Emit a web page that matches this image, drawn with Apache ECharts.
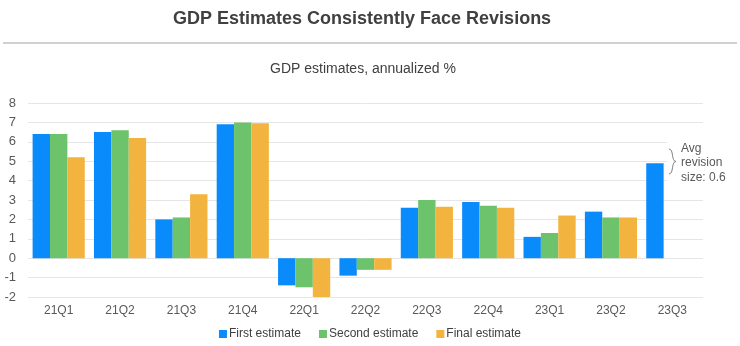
<!DOCTYPE html>
<html>
<head>
<meta charset="utf-8">
<script src="https://cdn.jsdelivr.net/npm/echarts@6/dist/echarts.min.js"></script>
<style>html,body{margin:0;padding:0;background:#fff}#c{width:740px;height:346px}</style>
</head>
<body>
<div id="c"></div>
<script>
const categories = ['21Q1','21Q2','21Q3','21Q4','22Q1','22Q2','22Q3','22Q4','23Q1','23Q2','23Q3'];
const firstEstimate  = [6.4, 6.5, 2.0, 6.9, -1.4, -0.9, 2.6, 2.9, 1.1, 2.4, 4.9];
const secondEstimate = [6.4, 6.6, 2.1, 7.0, -1.5, -0.6, 3.0, 2.7, 1.3, 2.1, null];
const finalEstimate  = [5.2, 6.2, 3.3, 6.95, -2.0, -0.6, 2.65, 2.6, 2.2, 2.1, null];
const yTicks = { min: -2, max: 8, interval: 1 };
const seriesNames = ['First estimate', 'Second estimate', 'Final estimate'];
const colors = ['#0A8BFC', '#6CC36B', '#F3B33F'];

const chart = echarts.init(document.getElementById('c'), null, { renderer: 'canvas' });
const font = 'Liberation Sans, Arial, sans-serif';
chart.setOption({
  animation: false,
  color: colors,
  textStyle: { fontFamily: font },
  title: [
    { text: 'GDP Estimates Consistently Face Revisions', left: 168, top: 5,
      textStyle: { fontSize: 18, fontWeight: 'bold', color: '#404040', fontFamily: font } },
    { text: 'GDP estimates, annualized %', left: 265, top: 57,
      textStyle: { fontSize: 14, fontWeight: 'normal', color: '#404040', fontFamily: font } }
  ],
  graphic: [
    { type: 'line', shape: { x1: 3, y1: 43, x2: 737, y2: 43 }, style: { stroke: '#d0d0d0', lineWidth: 2 } },
    { type: 'rect', shape: { x: 667, y: 140, width: 73, height: 46 }, style: { fill: '#ffffff' }, z: 10 },
    { type: 'bezierCurve', shape: { x1: 669, y1: 149, cpx1: 674, cpy1: 149, cpx2: 671, cpy2: 161.5, x2: 676, y2: 161.5 },
      style: { stroke: '#7f7f7f', lineWidth: 1, fill: null }, z: 11 },
    { type: 'bezierCurve', shape: { x1: 676, y1: 161.5, cpx1: 671, cpy1: 161.5, cpx2: 674, cpy2: 174, x2: 669, y2: 174 },
      style: { stroke: '#7f7f7f', lineWidth: 1, fill: null }, z: 11 },
    { type: 'text', left: 681, top: 141, z: 11, style: { text: 'Avg\nrevision\nsize: 0.6', fontSize: 12, lineHeight: 14.5, fill: '#595959', fontFamily: font } }
  ],
  legend: {
    data: seriesNames, bottom: 1, left: 'center', itemWidth: 8, itemHeight: 8, itemGap: 18,
    icon: 'rect',
    textStyle: { fontSize: 12, color: '#404040', fontFamily: font, padding: [0, 0, 0, -3] }
  },
  grid: { left: 28, right: 37, top: 103, bottom: 49, containLabel: false },
  xAxis: {
    type: 'category', data: categories,
    axisLine: { show: false }, axisTick: { show: false },
    axisLabel: { color: '#595959', fontSize: 12, margin: 8, fontFamily: font }
  },
  yAxis: {
    type: 'value', min: yTicks.min, max: yTicks.max, interval: yTicks.interval,
    axisLine: { show: false }, axisTick: { show: false },
    axisLabel: { color: '#595959', fontSize: 13, margin: 12, fontFamily: font },
    splitLine: { lineStyle: { color: '#e6e6e6', width: 1 } }
  },
  series: [
    { name: seriesNames[0], type: 'bar', data: firstEstimate, barGap: '0%', barCategoryGap: '15%' },
    { name: seriesNames[1], type: 'bar', data: secondEstimate, barGap: '0%', barCategoryGap: '15%' },
    { name: seriesNames[2], type: 'bar', data: finalEstimate, barGap: '0%', barCategoryGap: '15%' }
  ]
});
</script>
</body>
</html>
